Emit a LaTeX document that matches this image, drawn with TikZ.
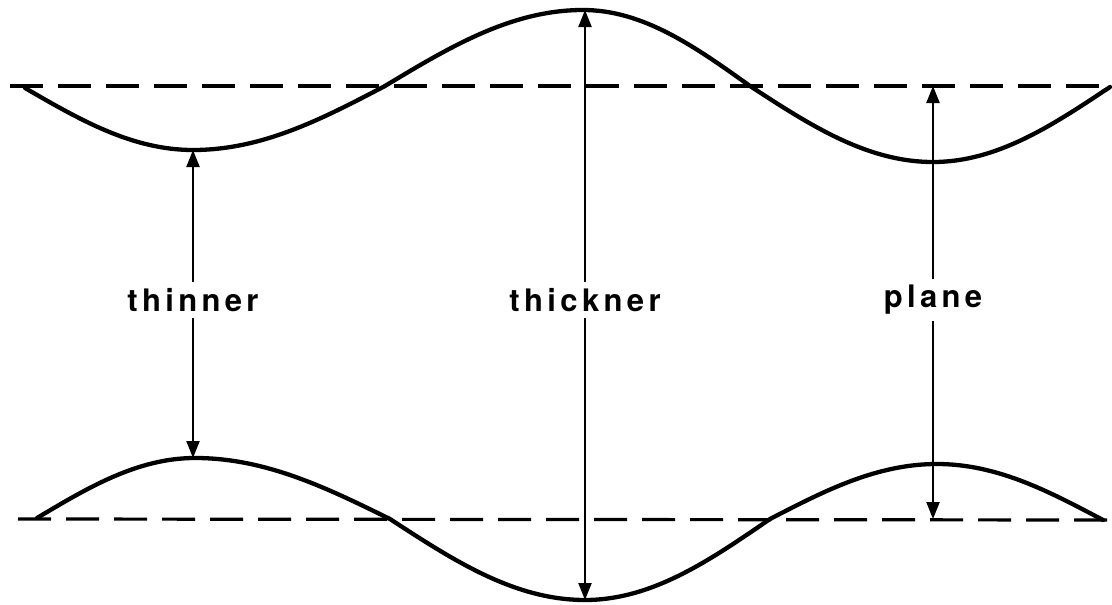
\documentclass[tikz,border=0pt]{standalone}
\usepackage{fontspec}
\newfontfamily\lblfont{TeX Gyre Heros}[LetterSpace=14]
\usetikzlibrary{arrows.meta}

\begin{document}
\begin{tikzpicture}[x=1pt, y=-1pt,
        wave/.style={line width=4.3pt, line cap=round},
        level/.style={line width=3.2pt, dash pattern=on 33pt off 15pt},
        dim/.style={line width=2.2pt, -{Triangle[length=17pt,width=13pt]}},
        lbl/.style={font=\lblfont\bfseries\fontsize{31}{36}\selectfont, inner sep=6pt}]
        \useasboundingbox (0,0) rectangle (1112,605);
        \draw[level] (10,86) -- (1112,86);
        \draw[level] (18,519) -- (1112,520);
        \draw[wave] (25,88) sin (193,150) cos (385,86) sin (583,10) cos (750,86) sin (933,162) cos (1110,87);
        \draw[wave] (37,518) sin (195,458) cos (390,519) sin (585,600) cos (770,519) sin (937,464) cos (1103,520);
        \coordinate (thinTop) at (193,150);
        \coordinate (thinBot) at (193,458);
        \coordinate (thickTop) at (585,10);
        \coordinate (thickBot) at (585,600);
        \coordinate (planeTop) at (933,86);
        \coordinate (planeBot) at (933,519);
        \node[lbl] (thinLbl) at (193,300) {thinner};
        \node[lbl] (thickLbl) at (585,300) {thickner};
        \node[lbl] (planeLbl) at (933,300) {plane};
        \draw[dim] (thinLbl) -- (thinTop);
        \draw[dim] (thinLbl) -- (thinBot);
        \draw[dim] (thickLbl) -- (thickTop);
        \draw[dim] (thickLbl) -- (thickBot);
        \draw[dim] (planeLbl) -- (planeTop);
        \draw[dim] (planeLbl) -- (planeBot);
    \end{tikzpicture}
\end{document}
